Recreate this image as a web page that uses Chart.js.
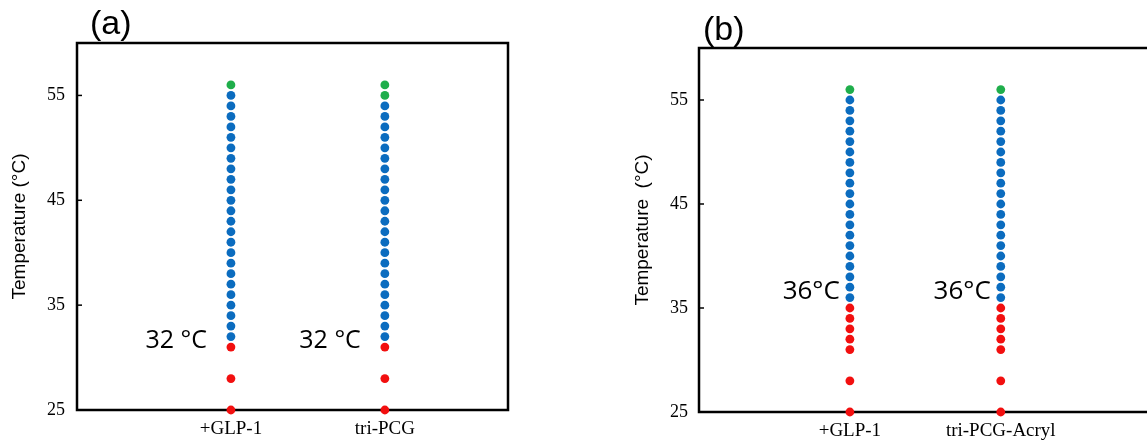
<!DOCTYPE html>
<html>
<head>
<meta charset="utf-8">
<script src="https://cdn.jsdelivr.net/npm/chart.js@4.4.0/dist/chart.umd.min.js"></script>
<style>
  body { margin: 0; background: #fff; }
  #wrap { position: relative; width: 1147px; height: 445px; overflow: hidden; }
  .box { position: absolute; top: 0; height: 445px; }
  .tag { position: absolute; font-family: "Liberation Sans", Arial, sans-serif; font-size: 34px; color: #000; line-height: 1; z-index: 2; }
</style>
</head>
<body>
<div id="wrap">
  <div class="box" style="left:0;width:540px"><canvas id="chartA"></canvas></div>
  <div class="box" style="left:600px;width:547px"><canvas id="chartB"></canvas></div>
  <div class="tag" style="left:90px;top:5px">(a)</div>
  <div class="tag" style="left:703px;top:11px">(b)</div>
</div>
<script>
// panel (a)
const catsA = ['+GLP-1', 'tri-PCG'];
const aGlpRed = [25, 28, 31];
const aGlpBlue = [32, 33, 34, 35, 36, 37, 38, 39, 40, 41, 42, 43, 44, 45, 46, 47, 48, 49, 50, 51, 52, 53, 54, 55];
const aGlpGreen = [56];
const aPcgRed = [25, 28, 31];
const aPcgBlue = [32, 33, 34, 35, 36, 37, 38, 39, 40, 41, 42, 43, 44, 45, 46, 47, 48, 49, 50, 51, 52, 53, 54];
const aPcgGreen = [55, 56];
const notesA = ['32 °C', '32 °C'];

// panel (b)
const catsB = ['+GLP-1', 'tri-PCG-Acryl'];
const bGlpRed = [25, 28, 31, 32, 33, 34, 35];
const bGlpBlue = [36, 37, 38, 39, 40, 41, 42, 43, 44, 45, 46, 47, 48, 49, 50, 51, 52, 53, 54, 55];
const bGlpGreen = [56];
const bAcrRed = [25, 28, 31, 32, 33, 34, 35];
const bAcrBlue = [36, 37, 38, 39, 40, 41, 42, 43, 44, 45, 46, 47, 48, 49, 50, 51, 52, 53, 54, 55];
const bAcrGreen = [56];
const notesB = ['36°C', '36°C'];

const yTicks = [25, 35, 45, 55];

const RED = '#f20f0f', BLUE = '#0b6cbf', GREEN = '#1fae4b';

function pts(list1, list2) {
  return [...list1.map(t => ({x: 1, y: t})), ...list2.map(t => ({x: 2, y: t}))];
}

function dots(label, data, color) {
  return {label: label, data: data, backgroundColor: color, borderWidth: 0,
          pointRadius: 4.4, pointHoverRadius: 4.4, clip: false};
}

// frame + inward ticks go under the dots, notes on top
const extras = {
  id: 'extras',
  beforeDatasetsDraw(chart, args, opts) {
    const ctx = chart.ctx, a = chart.chartArea;
    const ys = chart.scales.y;
    ctx.save();
    ctx.strokeStyle = '#000';
    ctx.lineWidth = 2.5;
    ctx.beginPath();
    if (opts.closed) {
      ctx.rect(a.left, a.top, a.right - a.left, a.bottom - a.top);
    } else {
      ctx.moveTo(a.right + 5, a.top);
      ctx.lineTo(a.left, a.top);
      ctx.lineTo(a.left, a.bottom);
      ctx.lineTo(a.right + 5, a.bottom);
    }
    ctx.stroke();
    ctx.lineWidth = 1.5;
    yTicks.forEach(v => {
      const py = ys.getPixelForValue(v);
      ctx.beginPath();
      ctx.moveTo(a.left, py);
      ctx.lineTo(a.left + 5, py);
      ctx.stroke();
    });
    ctx.restore();
  },
  afterDraw(chart, args, opts) {
    const ctx = chart.ctx;
    const ys = chart.scales.y, xs = chart.scales.x;
    ctx.save();
    ctx.fillStyle = '#000';
    ctx.font = opts.font;
    ctx.textAlign = 'right';
    ctx.textBaseline = 'middle';
    opts.notes.forEach((txt, i) => {
      ctx.fillText(txt, xs.getPixelForValue(i + 1) - opts.gap, ys.getPixelForValue(opts.at));
    });
    ctx.restore();
  }
};

function makeChart(id, cats, red, blue, green, cfg) {
  return new Chart(document.getElementById(id), {
    type: 'scatter',
    data: {
      datasets: [dots('red', red, RED), dots('blue', blue, BLUE), dots('green', green, GREEN)]
    },
    options: {
      responsive: true,
      maintainAspectRatio: false,
      animation: false,
      events: [],
      layout: {padding: {top: cfg.top, left: 0, right: cfg.right, bottom: 0}},
      plugins: {
        legend: {display: false},
        tooltip: {enabled: false},
        extras: {closed: cfg.closed, notes: cfg.notes, at: cfg.noteAt, gap: cfg.gap, font: cfg.noteFont}
      },
      scales: {
        x: {
          type: 'linear', min: 0, max: cfg.xMax,
          grid: {display: false, drawTicks: false},
          border: {display: false},
          afterBuildTicks: s => { s.ticks = [{value: 1}, {value: 2}]; },
          afterFit: s => { s.height = cfg.xH; },
          ticks: {
            padding: 8, maxRotation: 0, autoSkip: false, color: '#000',
            font: {family: '"Liberation Serif", "Times New Roman", serif', size: 19},
            callback: v => cats[v - 1] || ''
          }
        },
        y: {
          min: 25, max: 60,
          grid: {display: false, drawTicks: false},
          border: {display: false},
          afterBuildTicks: s => { s.ticks = yTicks.map(v => ({value: v})); },
          afterFit: s => { s.width = cfg.yW; },
          ticks: {
            padding: cfg.tickPad, color: '#000',
            font: {family: '"Liberation Serif", "Times New Roman", serif', size: 18}
          },
          title: {
            display: true, text: cfg.yTitle, color: '#000',
            padding: {top: cfg.titlePad, bottom: 0},
            font: {family: '"Liberation Sans", Arial, sans-serif', size: 19}
          }
        }
      }
    },
    plugins: [extras]
  });
}

makeChart('chartA', catsA,
  pts(aGlpRed, aPcgRed), pts(aGlpBlue, aPcgBlue), pts(aGlpGreen, aPcgGreen),
  {top: 43, right: 32, closed: true, xMax: 2.8, xH: 35, yW: 77, tickPad: 12, titlePad: 8,
   yTitle: 'Temperature (°C)', notes: notesA, noteAt: 31.6, gap: 24,
   noteFont: '25px "Open Sans", "Noto Sans", sans-serif'});

makeChart('chartB', catsB,
  pts(bGlpRed, bAcrRed), pts(bGlpBlue, bAcrBlue), pts(bGlpGreen, bAcrGreen),
  {top: 48, right: 0, closed: false, xMax: 2.94, xH: 33, yW: 99, tickPad: 11, titlePad: 31,
   yTitle: 'Temperature  (°C)', notes: notesB, noteAt: 36.6, gap: 10,
   noteFont: '26px "Open Sans", "Noto Sans", sans-serif'});
</script>
</body>
</html>
